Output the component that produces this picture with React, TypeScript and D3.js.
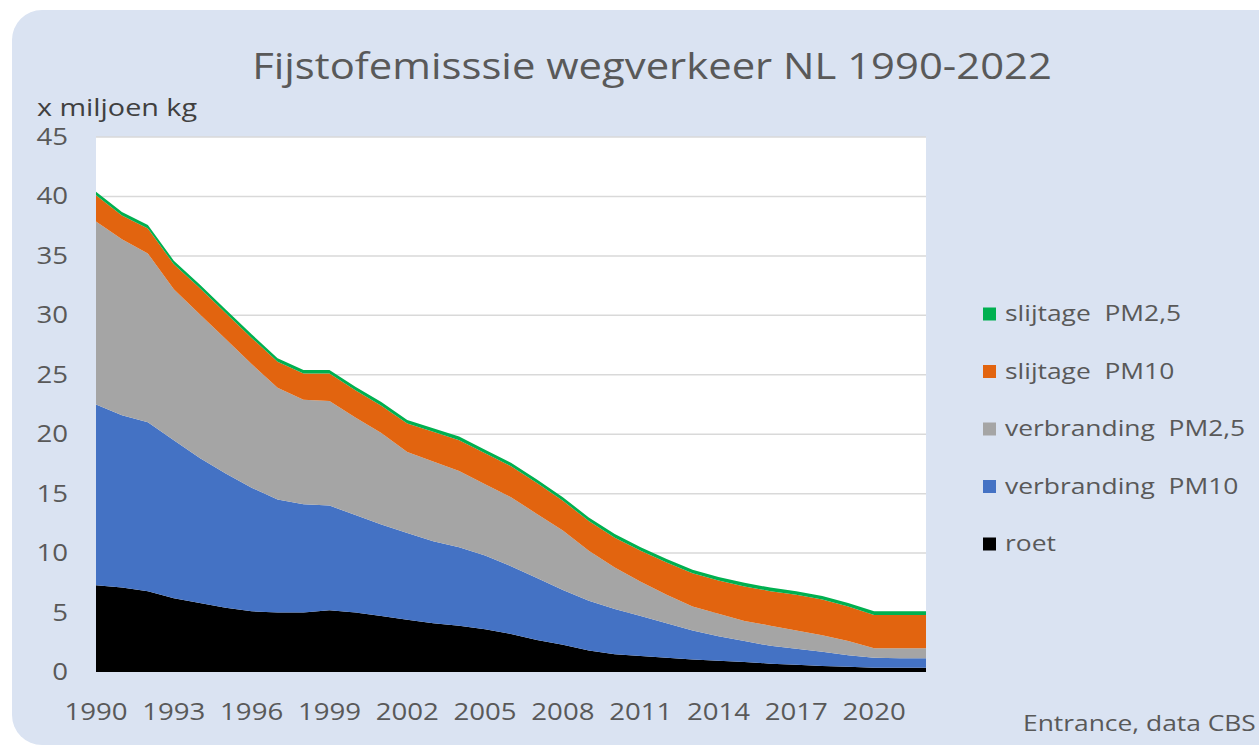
import React, { useEffect, useRef } from 'react';
import * as d3 from 'd3';

const years = [
  1990, 1991, 1992, 1993, 1994, 1995, 1996, 1997, 1998, 1999, 2000,
  2001, 2002, 2003, 2004, 2005, 2006, 2007, 2008, 2009, 2010, 2011,
  2012, 2013, 2014, 2015, 2016, 2017, 2018, 2019, 2020, 2021, 2022,
];

// x miljoen kg
const roet = [
  7.3, 7.1, 6.8, 6.2, 5.8, 5.4, 5.1, 5.0, 5.0, 5.2, 5.0,
  4.7, 4.4, 4.1, 3.9, 3.6, 3.2, 2.7, 2.3, 1.8, 1.5, 1.35,
  1.2, 1.05, 0.95, 0.85, 0.7, 0.62, 0.5, 0.45, 0.35, 0.35, 0.35,
];
const verbrandingPM10 = [
  15.2, 14.5, 14.2, 13.3, 12.2, 11.3, 10.4, 9.5, 9.1, 8.8, 8.2,
  7.7, 7.3, 6.9, 6.6, 6.2, 5.7, 5.2, 4.6, 4.2, 3.8, 3.35,
  2.9, 2.45, 2.05, 1.75, 1.5, 1.33, 1.2, 0.95, 0.85, 0.8, 0.8,
];
const verbrandingPM25 = [
  15.4, 14.8, 14.2, 12.7, 12.1, 11.3, 10.4, 9.4, 8.8, 8.8, 8.2,
  7.7, 6.8, 6.7, 6.4, 6.0, 5.8, 5.4, 5.0, 4.2, 3.5, 2.9,
  2.4, 2.0, 1.9, 1.7, 1.7, 1.55, 1.4, 1.2, 0.8, 0.85, 0.85,
];
const slijtagePM10 = [
  2.2, 2.0, 2.1, 2.1, 2.2, 2.2, 2.2, 2.2, 2.2, 2.3, 2.3,
  2.3, 2.4, 2.5, 2.6, 2.6, 2.6, 2.6, 2.5, 2.5, 2.5, 2.6,
  2.7, 2.8, 2.8, 2.9, 2.9, 3.0, 3.0, 2.9, 2.8, 2.8, 2.8,
];
const slijtagePM25 = [
  0.3, 0.3, 0.3, 0.3, 0.3, 0.3, 0.3, 0.3, 0.3, 0.3, 0.3,
  0.3, 0.3, 0.3, 0.3, 0.3, 0.3, 0.3, 0.3, 0.3, 0.3, 0.3,
  0.3, 0.3, 0.3, 0.3, 0.3, 0.3, 0.3, 0.3, 0.3, 0.3, 0.3,
];

// bottom to top
const seriesNames = ['roet', 'verbranding  PM10', 'verbranding  PM2,5', 'slijtage  PM10', 'slijtage  PM2,5'];
const seriesValues = [roet, verbrandingPM10, verbrandingPM25, slijtagePM10, slijtagePM25];
const seriesColors = ['#000000', '#4472c4', '#a5a5a5', '#e2640f', '#00b050'];

const yTicks = [0, 5, 10, 15, 20, 25, 30, 35, 40, 45];
const xTicks = [1990, 1993, 1996, 1999, 2002, 2005, 2008, 2011, 2014, 2017, 2020];

const W = 1259, H = 748;
const SX = 1.2; // source text looks horizontally stretched
const FONT = '"Open Sans", sans-serif';

export default function App() {
  const svgRef = useRef<SVGSVGElement>(null);

  useEffect(() => {
    if (!svgRef.current) return;
    const svg = d3.select(svgRef.current);
    svg.selectAll('*').remove();

    const left = 96, right = 926, top = 137, bottom = 672;
    const x = d3.scaleLinear().domain([1990, 2022]).range([left, right]);
    const y = d3.scaleLinear().domain([0, 45]).range([bottom, top]);

    const text = (px: number, py: number, str: string, size: number, anchor = 'start', fill = '#595959', sx = SX) =>
      svg.append('text')
        .attr('transform', `translate(${px},${py}) scale(${sx},1)`)
        .attr('text-anchor', anchor)
        .attr('font-family', FONT)
        .attr('font-size', size)
        .attr('fill', fill)
        .style('white-space', 'pre')
        .text(str);

    // card
    svg.append('rect').attr('x', 12).attr('y', 10).attr('width', 1300).attr('height', 735)
      .attr('rx', 30).attr('fill', '#dae3f2');

    // plot area
    svg.append('rect').attr('x', left).attr('y', top)
      .attr('width', right - left).attr('height', bottom - top).attr('fill', '#ffffff');

    // gridlines
    svg.append('g').selectAll('line').data(yTicks.filter(t => t > 0)).join('line')
      .attr('x1', left).attr('x2', right)
      .attr('y1', d => y(d)).attr('y2', d => y(d))
      .attr('stroke', '#d9d9d9').attr('stroke-width', 1.5);

    // stacked areas
    const table = years.map((yr, i) => {
      const row: Record<string, number> = { year: yr };
      seriesNames.forEach((n, k) => { row[n] = seriesValues[k][i]; });
      return row;
    });
    const stacked = d3.stack<Record<string, number>>().keys(seriesNames)(table);
    const area = d3.area<d3.SeriesPoint<Record<string, number>>>()
      .x(d => x(d.data.year))
      .y0(d => y(d[0]))
      .y1(d => y(d[1]));
    svg.append('g').selectAll('path').data(stacked).join('path')
      .attr('d', area)
      .attr('fill', (_, i) => seriesColors[i]);

    // y tick labels
    yTicks.forEach(t => text(68, y(t) + 8, String(t), 23, 'end'));
    // x tick labels
    xTicks.forEach(t => text(x(t), 720, String(t), 23, 'middle'));

    // title and axis unit
    text(652, 79, 'Fijstofemisssie wegverkeer NL 1990-2022', 37, 'middle', '#595959', 1.13);
    text(37, 116, 'x miljoen kg', 23, 'start', '#404040', 1.25);

    // legend, top entry first
    const legendOrder = d3.range(seriesNames.length).reverse();
    legendOrder.forEach((k, j) => {
      const cy = 314 + j * 57.5;
      svg.append('rect').attr('x', 983).attr('y', cy - 6.5).attr('width', 13).attr('height', 13)
        .attr('fill', seriesColors[k]);
      text(1005, cy + 7, seriesNames[k], 22);
    });

    text(1023, 731, 'Entrance, data CBS', 22);
  }, []);

  return <svg ref={svgRef} width={W} height={H} style={{ display: 'block', position: 'absolute', left: 0, top: 0, background: '#ffffff' }} />;
}
